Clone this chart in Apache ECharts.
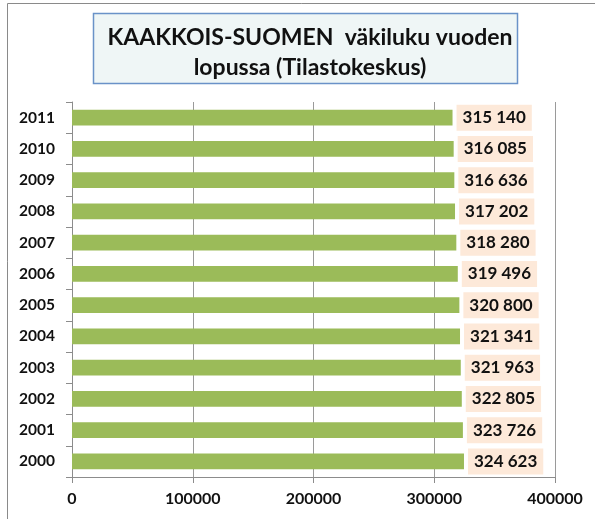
<!DOCTYPE html>
<html>
<head>
<meta charset="utf-8">
<script src="https://cdn.jsdelivr.net/npm/echarts@6/dist/echarts.min.js"></script>
<style>
  html, body { margin: 0; padding: 0; background: #fff; }
  #chart { width: 595px; height: 519px; }
</style>
</head>
<body>
<div id="chart"></div>
<script>
  // vuodet ja väkiluku (Tilastokeskus)
  const years = ['2000', '2001', '2002', '2003', '2004', '2005', '2006', '2007', '2008', '2009', '2010', '2011'];
  const population = [324623, 323726, 322805, 321963, 321341, 320800, 319496, 318280, 317202, 316636, 316085, 315140];
  const xTicks = [0, 100000, 200000, 300000, 400000];

  const chart = echarts.init(document.getElementById('chart'));
  const font = 'Lato, "Open Sans", sans-serif';

  chart.setOption({
    animation: false,
    graphic: [
      // ulkoreunus
      { type: 'rect', shape: { x: 7.5, y: 3.5, width: 600, height: 530 }, style: { fill: 'none', stroke: '#8a8a8a', lineWidth: 1 } },
      // otsikkolaatikko
      { type: 'rect', shape: { x: 93.5, y: 13.5, width: 424, height: 70 }, style: { fill: '#eff6f6', stroke: '#6a92c8', lineWidth: 1.5 } }
    ],
    title: {
      text: 'KAAKKOIS-SUOMEN  väkiluku vuoden\nlopussa (Tilastokeskus)',
      left: 305,
      top: 18,
      textAlign: 'center',
      textStyle: { fontFamily: font, fontWeight: 'bold', fontSize: 23, lineHeight: 30, color: '#111' }
    },
    grid: { left: 72, right: 40, top: 102, bottom: 42 },
    xAxis: {
      type: 'value',
      min: 0,
      max: 400000,
      interval: 100000,
      axisLine: { show: true, lineStyle: { color: '#8c8c8c' } },
      axisTick: { show: true, length: 6, lineStyle: { color: '#8c8c8c' } },
      splitLine: { show: true, lineStyle: { color: '#9a9a9a' } },
      axisLabel: {
        margin: 14,
        fontFamily: font, fontWeight: 'bold', fontSize: 16, color: '#111',
        formatter: v => xTicks.includes(v) ? String(v) : ''
      }
    },
    yAxis: {
      type: 'category',
      data: years,
      axisLine: { show: true, lineStyle: { color: '#8c8c8c' } },
      axisTick: { show: true, length: 6, lineStyle: { color: '#8c8c8c' } },
      axisLabel: { margin: 17, fontFamily: font, fontWeight: 'bold', fontSize: 15.5, color: '#111' }
    },
    series: [{
      type: 'bar',
      data: population,
      barCategoryGap: '50%',
      itemStyle: { color: '#9bbb59' },
      label: {
        show: true,
        position: 'right',
        distance: 4,
        backgroundColor: '#fde9d9',
        padding: [5, 6, 4, 6],
        fontFamily: font, fontWeight: 'bold', fontSize: 17, color: '#111',
        formatter: p => String(p.value).replace(/\B(?=(\d{3})+(?!\d))/g, ' ')
      }
    }]
  });
</script>
</body>
</html>
